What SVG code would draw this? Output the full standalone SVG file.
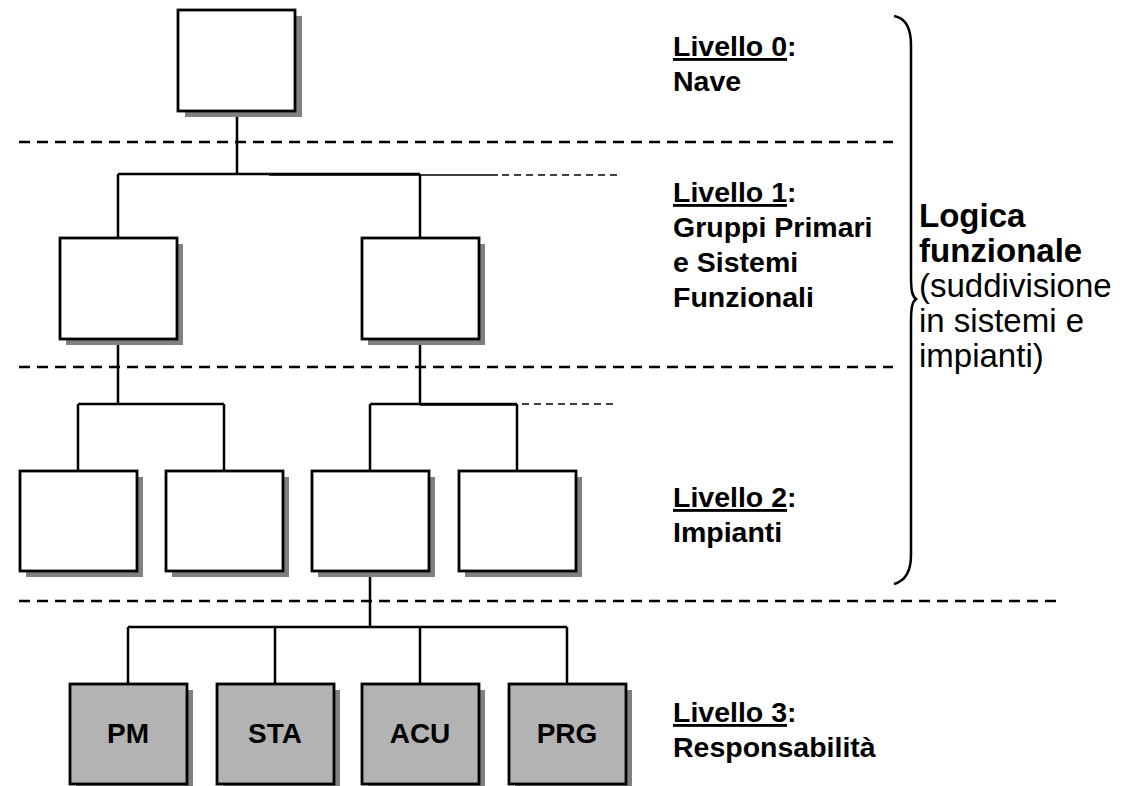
<svg xmlns="http://www.w3.org/2000/svg" width="1125" height="786" viewBox="0 0 1125 786">
<defs>
<style>
.box{fill:#ffffff;stroke:#000;stroke-width:2.8}
.gbox{fill:#b3b3b3;stroke:#000;stroke-width:2.8}
.sh{fill:#808080}
.ln{fill:none;stroke:#000;stroke-width:2.5}
.thin{fill:none;stroke:#000;stroke-width:1.6}
.dash{fill:none;stroke:#000;stroke-width:2.5;stroke-dasharray:11 7}
.sdash{fill:none;stroke:#000;stroke-width:1.6;stroke-dasharray:7 5}
.t{font-family:"Liberation Sans",Arial,sans-serif;font-size:28.5px;fill:#000}
.r{font-family:"Liberation Sans",Arial,sans-serif;font-size:33px;fill:#000}
.b{font-weight:bold}
.lbl{font-family:"Liberation Sans",Arial,sans-serif;font-size:28px;font-weight:bold;fill:#000;text-anchor:middle}
</style>
</defs>
<rect width="1125" height="786" fill="#ffffff"/>
<g id="separators">
<line class="dash" x1="19" y1="142" x2="893" y2="142"/>
<line class="dash" x1="19" y1="367" x2="893" y2="367"/>
<line class="dash" x1="19" y1="601" x2="1060" y2="601"/>
</g>
<g id="connectors">
<path class="ln" d="M237,111 V174 M118,174 H420 M118,174 V238 M420,174 V238"/>
<line class="thin" x1="269" y1="175" x2="498" y2="175"/>
<line class="sdash" x1="502" y1="175" x2="622" y2="175"/>
<path class="ln" d="M118,339 V404 M78,404 H224 M78,404 V471 M224,404 V471"/>
<path class="ln" d="M420,339 V404 M370,404 H517 M370,404 V471 M517,404 V471"/>
<line class="thin" x1="420" y1="405" x2="517" y2="405"/>
<line class="sdash" x1="522" y1="404" x2="614" y2="404"/>
<path class="ln" d="M370,571 V627 M128,627 H567 M128,627 V684 M275,627 V684 M420,627 V684 M567,627 V684"/>
</g>
<g id="node-l0">
<rect class="sh" x="185" y="16" width="117" height="101"/>
<rect class="box" x="178" y="10" width="117" height="101"/>
</g>
<g id="node-l1a">
<rect class="sh" x="66" y="244" width="117" height="101"/>
<rect class="box" x="60" y="238" width="117" height="101"/>
</g>
<g id="node-l1b">
<rect class="sh" x="368" y="244" width="117" height="101"/>
<rect class="box" x="362" y="238" width="117" height="101"/>
</g>
<g id="node-l2a">
<rect class="sh" x="26" y="477" width="117" height="100"/>
<rect class="box" x="20" y="471" width="117" height="100"/>
</g>
<g id="node-l2b">
<rect class="sh" x="172" y="477" width="117" height="100"/>
<rect class="box" x="166" y="471" width="117" height="100"/>
</g>
<g id="node-l2c">
<rect class="sh" x="318" y="477" width="117" height="100"/>
<rect class="box" x="312" y="471" width="117" height="100"/>
</g>
<g id="node-l2d">
<rect class="sh" x="465" y="477" width="117" height="100"/>
<rect class="box" x="459" y="471" width="117" height="100"/>
</g>
<g id="node-pm">
<rect class="sh" x="76" y="690" width="117" height="100"/>
<rect class="gbox" x="70" y="684" width="117" height="100"/>
<text class="lbl" x="128" y="743">PM</text>
</g>
<g id="node-sta">
<rect class="sh" x="223" y="690" width="117" height="100"/>
<rect class="gbox" x="217" y="684" width="117" height="100"/>
<text class="lbl" x="275" y="743">STA</text>
</g>
<g id="node-acu">
<rect class="sh" x="368" y="690" width="117" height="100"/>
<rect class="gbox" x="362" y="684" width="117" height="100"/>
<text class="lbl" x="420" y="743">ACU</text>
</g>
<g id="node-prg">
<rect class="sh" x="515" y="690" width="117" height="100"/>
<rect class="gbox" x="509" y="684" width="117" height="100"/>
<text class="lbl" x="567" y="743">PRG</text>
</g>
<g id="level-labels">
<text class="t b" x="673" y="56"><tspan text-decoration="underline">Livello 0</tspan>:</text>
<text class="t b" x="673" y="91">Nave</text>
<text class="t b" x="673" y="202"><tspan text-decoration="underline">Livello 1</tspan>:</text>
<text class="t b" x="673" y="237">Gruppi Primari</text>
<text class="t b" x="673" y="272">e Sistemi</text>
<text class="t b" x="673" y="307">Funzionali</text>
<text class="t b" x="673" y="507"><tspan text-decoration="underline">Livello 2</tspan>:</text>
<text class="t b" x="673" y="542">Impianti</text>
<text class="t b" x="673" y="722"><tspan text-decoration="underline">Livello 3</tspan>:</text>
<text class="t b" x="673" y="757">Responsabilità</text>
</g>
<g id="brace">
<path class="ln" d="M894,16 C905,18 911,28 911,45 L911,276 C911,290 912,296 916,299 C912,302 911,308 911,322 L911,555 C911,572 905,581 894,584"/>
</g>
<g id="side-label">
<text class="r b" x="919" y="227">Logica</text>
<text class="r b" x="919" y="262">funzionale</text>
<text class="r" x="919" y="297">(suddivisione</text>
<text class="r" x="919" y="332">in sistemi e</text>
<text class="r" x="919" y="367">impianti)</text>
</g>
</svg>
